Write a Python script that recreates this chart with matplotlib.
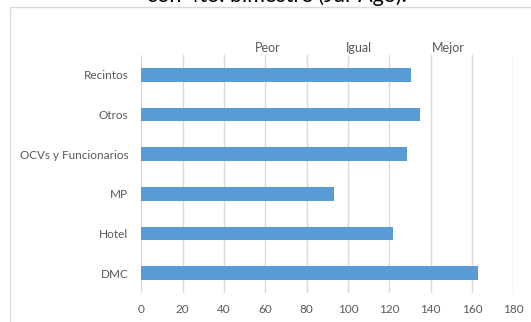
import matplotlib
matplotlib.use("Agg")
import matplotlib.pyplot as plt
from matplotlib.patches import Rectangle
import matplotlib.transforms as mtransforms

categories = ["DMC", "Hotel", "MP", "OCVs y Funcionarios", "Otros", "Recintos"]
values = [162.8, 121.7, 93.1, 128.6, 134.9, 130.6]
xticks = [0, 20, 40, 60, 80, 100, 120, 140, 160, 180]
zone_labels = ["Peor", "Igual", "Mejor"]
zone_positions = [61, 105.5, 148.5]
title = "con 4to. bimestre (Jul-Ago)."

plt.rcParams['font.family'] = ['Lato', 'DejaVu Sans']
W, H = 531, 322
fig = plt.figure(figsize=(W / 100, H / 100), dpi=100)

# chart border
fig.patches.append(Rectangle((9.5 / W, -0.1), 1.2, 1 - 7.3 / H + 0.1,
                             transform=fig.transFigure, fill=False,
                             edgecolor="#d9d9d9", linewidth=1.0, zorder=0))

ax = fig.add_axes([141.4 / W, 1 - 293 / H, (513.3 - 141.4) / W, (293 - 55) / H])
text_color = "#595959"
ax.barh(range(len(categories)), values, height=0.34, color="#5B9BD5", zorder=3)
ax.set_xlim(0, 180)
ax.set_ylim(-0.5, len(categories) - 0.5)
ax.set_xticks(xticks)
ax.set_xticklabels([str(t) for t in xticks])
ax.set_yticks(range(len(categories)))
ax.set_yticklabels(categories)
ax.tick_params(axis='both', length=0, colors=text_color, labelsize=8.5)
ax.tick_params(axis='y', pad=9.5)
ax.tick_params(axis='x', pad=8)
ax.grid(axis='x', color="#d9d9d9", linewidth=1.0, zorder=0)
for s in ax.spines.values():
    s.set_visible(False)

trans = mtransforms.blended_transform_factory(ax.transData, ax.transAxes)
for lab, pos in zip(zone_labels, zone_positions):
    ax.text(pos, 1.029, lab, transform=trans, ha='center', va='center',
            color=text_color, fontsize=9)

fig.text(276.5 / W, 1 - 2.5 / H, title, ha='center', va='baseline',
         fontsize=15.5, color="#000000")

fig.savefig("out.png", dpi=100)
